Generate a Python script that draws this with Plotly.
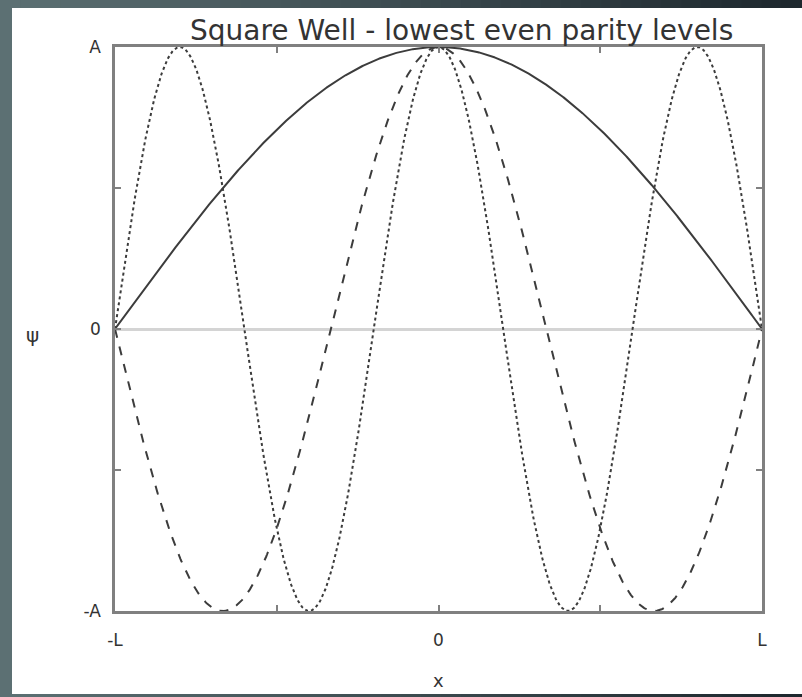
import numpy as np
import plotly.graph_objects as go

# Even-parity states of the infinite square well on [-L, L]: psi_n = A cos(n*pi*x / 2L)
mode_numbers = [1, 3, 5]
line_dashes = ["solid", "dash", "dot"]
amplitude = 1.0

x_tick_vals = [-1, -0.5, 0, 0.5, 1]
x_tick_text = ["-L", "", "0", "", "L"]
y_tick_vals = [-1, -0.5, 0, 0.5, 1]
y_tick_text = ["-A", "", "0", "", "A"]

title_text = "Square Well - lowest even parity levels"

x = np.linspace(-1, 1, 801)

fig = go.Figure()
for n, dash in zip(mode_numbers, line_dashes):
    fig.add_trace(go.Scatter(
        x=x, y=amplitude * np.cos(n * np.pi * x / 2),
        mode="lines",
        line=dict(color="#3c3c3c", width=2, dash=dash),
        showlegend=False, hoverinfo="skip",
    ))

W, H = 802, 697
shapes = []
# slate gradient behind the white panel
left_rgb = np.array([92, 112, 115])
right_rgb = np.array([30, 40, 46])
steps = 40
for i in range(steps):
    t = i / (steps - 1)
    c = (left_rgb * (1 - t) + right_rgb * t).astype(int)
    shapes.append(dict(type="rect", xref="paper", yref="paper", layer="below",
                       x0=-115 / 647 + i * (W / steps) / 647,
                       x1=-115 / 647 + (i + 1) * (W / steps) / 647 + 0.002,
                       y0=-86 / 564, y1=1 + 47 / 564,
                       line=dict(width=0), fillcolor=f"rgb({c[0]},{c[1]},{c[2]})"))
# white panel
shapes.append(dict(type="rect", xref="paper", yref="paper", layer="below",
                   x0=(12 - 115) / 647, x1=(W - 115) / 647 + 0.01,
                   y0=-(86 - 3) / 564, y1=1 + (47 - 8) / 564,
                   line=dict(width=0), fillcolor="white"))

axis_common = dict(
    showgrid=False, showline=True, linecolor="#808080", linewidth=2.5, mirror="ticks",
    ticks="inside", ticklen=6, tickwidth=1.5, tickcolor="#808080",
    tickfont=dict(family="DejaVu Sans", size=17, color="#333"),
)

fig.update_layout(
    width=W, height=H,
    margin=dict(l=115, r=40, t=47, b=86),
    paper_bgcolor="white", plot_bgcolor="white",
    shapes=shapes,
    xaxis=dict(range=[-1, 1], tickvals=x_tick_vals, ticktext=x_tick_text,
               zeroline=False, ticklabelstandoff=12, **axis_common),
    yaxis=dict(range=[-1, 1], tickvals=y_tick_vals, ticktext=y_tick_text,
               zeroline=True, zerolinecolor="#d4d4d4", zerolinewidth=2.5,
               ticklabelstandoff=8, **axis_common),
    annotations=[
        dict(text=title_text, xref="paper", yref="paper", x=(462 - 115) / 647, y=1 + 16 / 564,
             xanchor="center", yanchor="middle", showarrow=False,
             font=dict(family="DejaVu Sans", size=28, color="#333")),
        dict(text="ψ", xref="paper", yref="paper", x=(32 - 115) / 647, y=0.5 - 6 / 564,
             xanchor="center", yanchor="middle", showarrow=False,
             font=dict(family="DejaVu Sans", size=20, color="#333")),
        dict(text="x", xref="paper", yref="paper", x=0.5, y=-(680 - 611) / 564,
             xanchor="center", yanchor="middle", showarrow=False,
             font=dict(family="DejaVu Sans", size=18, color="#333")),
    ],
)

fig.write_html("out.html")
